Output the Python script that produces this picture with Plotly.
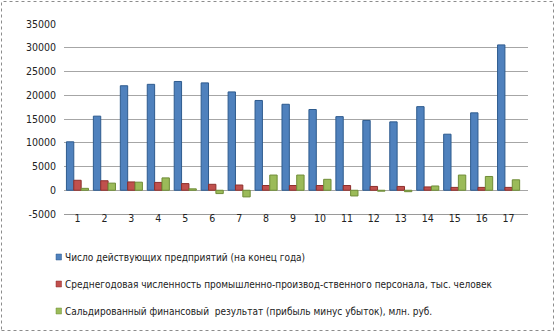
import plotly.graph_objects as go

# Categories (periods 1..17)
categories = list(range(1, 18))

# Number of operating enterprises (end of year)
enterprises = [10200, 15600, 22000, 22300, 22900, 22600, 20700, 18900, 18100,
               17000, 15500, 14700, 14400, 17600, 11800, 16300, 30600]

# Average annual industrial staff, thousand people
staff = [2100, 2000, 1750, 1650, 1400, 1250, 1100, 1000, 1000,
         1000, 1000, 800, 800, 700, 600, 600, 600]

# Balanced financial result (profit minus loss), mln rub.
fin_result = [400, 1500, 1700, 2600, 300, -700, -1400, 3200, 3200,
              2300, -1200, -200, -300, 900, 3200, 2900, 2200]

y_ticks = [-5000, 0, 5000, 10000, 15000, 20000, 25000, 30000, 35000]
y_tick_text = [str(v) for v in y_ticks]

series_names = [
    "Число действующих предприятий (на конец года)",
    "Среднегодовая численность промышленно-производ-ственного персонала, тыс. человек",
    "Сальдированный финансовый  результат (прибыль минус убыток), млн. руб.",
]
series_values = [enterprises, staff, fin_result]
series_colors = ["#4F81BD", "#C0504D", "#9BBB59"]
series_edges = ["#2E5B8E", "#8E2F2C", "#6F8C37"]

FONT = "DejaVu Sans Condensed, DejaVu Sans, sans-serif"

W, H = 555, 332
L, R, T, B = 64, 27, 24, 118
pw, ph = W - L - R, H - T - B


def px_x(x):
    return (x - L) / pw


def px_y(y):
    return 1 - (y - T) / ph


fig = go.Figure()
for name, vals, color, edge in zip(series_names, series_values, series_colors, series_edges):
    fig.add_trace(go.Bar(
        x=categories, y=vals, name=name, showlegend=False,
        marker=dict(color=color, line=dict(color=edge, width=1)),
    ))

# Legend drawn as small squares with text beside them
legend_rows = [257, 284, 311]
shapes = []
annotations = []
for name, color, edge, yc in zip(series_names, series_colors, series_edges, legend_rows):
    shapes.append(dict(
        type="rect", xref="paper", yref="paper",
        x0=px_x(56), x1=px_x(61.5), y0=px_y(yc + 3), y1=px_y(yc - 3),
        fillcolor=color, line=dict(color=edge, width=0.5),
    ))
    annotations.append(dict(
        xref="paper", yref="paper", x=px_x(63), y=px_y(yc),
        xanchor="left", yanchor="middle", showarrow=False, text=name,
        font=dict(family=FONT, size=10, color="#222"),
    ))

# Dashed outer frame
shapes.append(dict(
    type="rect", xref="paper", yref="paper",
    x0=px_x(1.5), x1=px_x(553.5), y0=px_y(330.5), y1=px_y(1.5),
    line=dict(color="#8c8c8c", width=1, dash="dot"),
    fillcolor="rgba(0,0,0,0)", layer="above",
))

fig.update_layout(
    width=W, height=H,
    margin=dict(l=L, r=R, t=T, b=B),
    paper_bgcolor="white", plot_bgcolor="white",
    barmode="group", bargap=0.18, bargroupgap=0.0,
    font=dict(family=FONT, size=10, color="#222"),
    showlegend=False,
    xaxis=dict(
        range=[0.5, 17.72],
        tickmode="array", tickvals=categories, ticktext=[str(c) for c in categories],
        showgrid=False, showline=True, linecolor="#9a9a9a", linewidth=1,
        ticks="", tickfont=dict(family=FONT, size=10.5, color="#222"),
        ticklabelstandoff=-6,
    ),
    yaxis=dict(
        range=[-5000, 35000], tickmode="array", tickvals=y_ticks, ticktext=y_tick_text,
        showgrid=True, gridcolor="#a6a6a6", gridwidth=1,
        zeroline=True, zerolinecolor="#a6a6a6", zerolinewidth=1,
        showline=False, ticks="", ticklabelstandoff=7,
        tickfont=dict(family=FONT, size=10.5, color="#222"),
    ),
    shapes=shapes,
    annotations=annotations,
)

fig.write_html("out.html")
